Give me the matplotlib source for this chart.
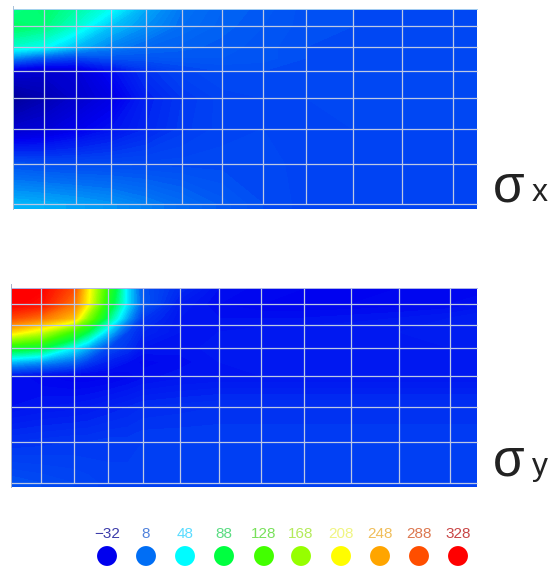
import matplotlib
matplotlib.use("Agg")
import matplotlib.pyplot as plt
import numpy as np
from matplotlib.colors import LinearSegmentedColormap, Normalize

legend_values = [-32, 8, 48, 88, 128, 168, 208, 248, 288, 328]
legend_colors = ["#0000f0", "#006ef5", "#00ffff", "#00ff40", "#40ff00",
                 "#96ff00", "#ffff00", "#ffa500", "#ff5000", "#ff0000"]
label_colors = ["#3c3caa", "#5082dc", "#5adcff", "#5adc82", "#78e15a",
                "#b4eb5a", "#f0f582", "#f0be5a", "#dc7850", "#c84646"]

# sigma x, nodal values
sx_x = [13, 44, 76, 111, 146, 182, 222, 263, 306, 353, 402, 453, 477]
sx_y = [9, 26, 47, 58, 71, 98, 129, 164, 204, 209]
sx = [
    [72, 80, 68, 50, 24, 10, 4, 1, -3, -4, -4, -4, -4],
    [82, 76, 58, 32, 18, 8, 3, 0, -3, -4, -4, -4, -4],
    [58, 50, 30, 14, 6, 3, 1, -1, -4, -4, -4, -4, -4],
    [15, 0, -8, -2, -1, 0, 0, -1, -4, -5, -5, -5, -5],
    [-42, -46, -42, -28, -14, -7, -4, -4, -5, -5, -5, -5, -5],
    [-66, -56, -46, -36, -20, -12, -7, -6, -6, -5, -5, -5, -5],
    [-46, -42, -34, -26, -18, -11, -7, -6, -6, -6, -6, -6, -6],
    [-2, -4, -5, -5, -5, -5, -5, -5, -7, -7, -7, -7, -7],
    [28, 26, 23, 19, 13, 7, 1, -4, -7, -7, -7, -7, -7],
    [28, 26, 23, 19, 13, 7, 1, -4, -7, -7, -7, -7, -7],
]

# sigma y
sy_x = [11, 41, 74, 88, 108, 128, 143, 180, 219, 261, 304, 351, 399, 450, 477]
sy_y = [288, 304, 318, 332, 348, 362, 376, 407, 442, 483, 487]
sy = [
    [330, 328, 290, 215, 120, 40, -2, -16, -26, -29, -30, -30, -30, -30, -30],
    [330, 320, 270, 210, 105, 40, 0, -22, -28, -30, -30, -30, -29, -28, -26],
    [292, 272, 235, 160, 78, 22, -12, -24, -26, -26, -26, -25, -24, -22, -20],
    [225, 190, 120, 85, 35, -8, -18, -24, -24, -23, -22, -22, -22, -21, -20],
    [100, 90, 45, 25, -5, -14, -24, -25, -23, -22, -22, -22, -22, -22, -22],
    [30, 20, 5, -10, -20, -26, -29, -27, -24, -23, -23, -23, -23, -23, -23],
    [-26, -30, -32, -32, -31, -29, -27, -25, -24, -24, -24, -24, -24, -24, -24],
    [-26, -24, -23, -22, -20, -18, -16, -15, -14, -14, -14, -14, -14, -14, -14],
    [-14, -13, -12, -12, -11, -11, -10, -10, -10, -10, -10, -10, -10, -10, -10],
    [-2, -4, -6, -7, -9, -9, -9, -9, -9, -9, -9, -9, -9, -9, -9],
    [-2, -4, -6, -7, -9, -9, -9, -9, -9, -9, -9, -9, -9, -9, -9],
]

# white wire mesh lines on the two plates
sx_grid_x = [44, 76, 111, 146, 182, 222, 263, 306, 353, 402, 453]
sx_grid_y = [26, 47, 71, 98, 129, 164, 204]
sy_grid_x = [41, 74, 108, 143, 180, 219, 261, 304, 351, 399, 450]
sy_grid_y = [304, 325, 348, 376, 407, 442, 483]

vmin, vmax = -72, 328
stops = [(0.0, "#00008c")]
for v, c in zip(legend_values, legend_colors):
    stops.append(((v - vmin) / (vmax - vmin), c))
cmap = LinearSegmentedColormap.from_list("stress", stops)
norm = Normalize(vmin, vmax)
levels = np.linspace(vmin, vmax, 201)

fig = plt.figure(figsize=(5.6, 5.67), dpi=100)
ax = fig.add_axes([0, 0, 1, 1])
ax.set_xlim(0, 560)
ax.set_ylim(567, 0)
ax.axis("off")

ax.contourf(sx_x, sx_y, np.array(sx), levels=levels, cmap=cmap, norm=norm, extend="both")
ax.contourf(sy_x, sy_y, np.array(sy), levels=levels, cmap=cmap, norm=norm, extend="both")

line = dict(colors="#bcc8e4", linewidth=0.9)
ax.vlines(sx_grid_x, 9, 204, **line)
ax.hlines(sx_grid_y, 13, 477, **line)
ax.vlines(sy_grid_x, 288, 483, **line)
ax.hlines(sy_grid_y, 11, 477, **line)
ax.plot([13, 477], [9, 9], color="#a8d0f0", lw=0.7)
ax.plot([13, 13], [6, 209], color="#a8c0d8", lw=0.7)
ax.plot([11, 477], [288, 288], color="#b0b8e8", lw=0.7)
ax.plot([11, 11], [284, 487], color="#a8b0c8", lw=0.7)

for y0, sub in [(201, "x"), (475, "y")]:
    ax.text(493, y0, "σ", fontsize=37, family="Liberation Sans", color="#222222",
            va="baseline", ha="left")
    ax.text(532, y0, sub, fontsize=23, family="Liberation Sans", color="#222222",
            va="baseline", ha="left")

legend_x = [107, 146, 185, 224, 264, 301, 341, 380, 419, 458]
ax.scatter(legend_x, [556] * 10, s=205, c=legend_values, cmap=cmap, norm=norm, linewidths=0)
for x, v, c in zip(legend_x, legend_values, label_colors):
    ax.text(x, 534, str(v).replace("-", "\u2212"), fontsize=11, color=c, ha="center", va="center",
            family="Liberation Sans")

fig.savefig("out.png", dpi=100)
